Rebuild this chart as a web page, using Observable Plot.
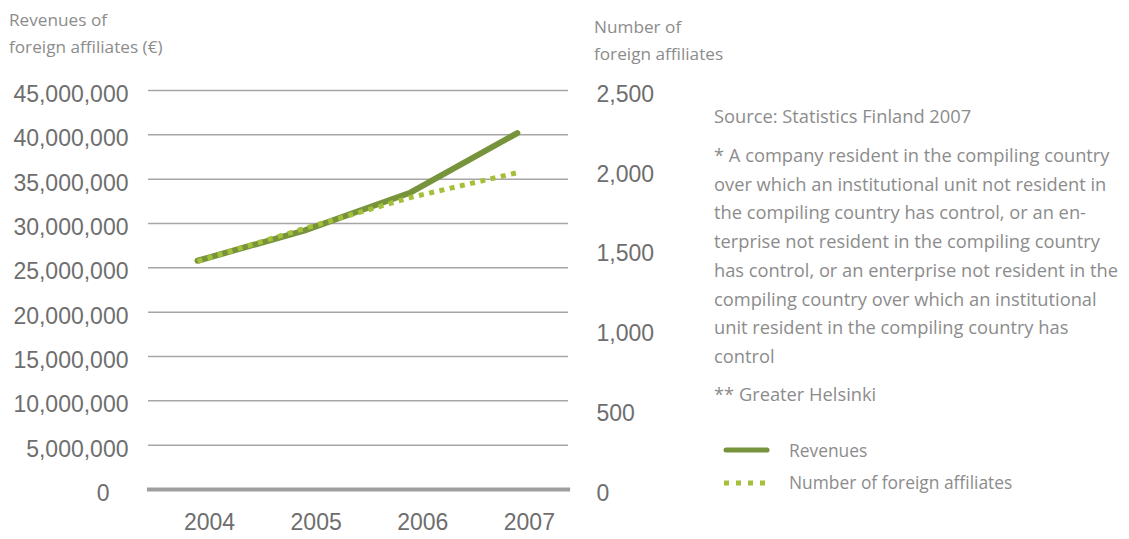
<!DOCTYPE html>
<html>
<head>
<meta charset="utf-8">
<script src="https://cdn.jsdelivr.net/npm/d3@7"></script>
<script src="https://cdn.jsdelivr.net/npm/@observablehq/plot@0.6"></script>
<style>
  html, body { margin: 0; padding: 0; background: #fff; }
  #wrap { position: relative; width: 1129px; height: 539px; overflow: hidden; }
  .t { position: absolute; font-family: "Open Sans", "Noto Sans", sans-serif; color: #8c8c8c; font-size: 17px; white-space: nowrap; }
  .title { font-size: 17.2px; line-height: 27px; }
  .notes { font-size: 18.3px; line-height: 28.7px; }
  .leg { font-size: 17.4px; line-height: 28px; }
</style>
</head>
<body>
<div id="wrap"></div>
<script>
const years = [2004, 2005, 2006, 2007];
const revenues = [25800000, 29200000, 33500000, 40200000];
const affiliates = [1430, 1635, 1830, 1985];
const leftTicks = [0, 5000000, 10000000, 15000000, 20000000, 25000000, 30000000, 35000000, 40000000, 45000000];
const rightTicks = [0, 500, 1000, 1500, 2000, 2500];
const yearLabels = ["2004", "2005", "2006", "2007"];
const seriesNames = ["Revenues", "Number of foreign affiliates"];
const leftTitle = ["Revenues of", "foreign affiliates (€)"];
const rightTitle = ["Number of", "foreign affiliates"];
const noteLines = [
  "Source: Statistics Finland 2007",
  "* A company resident in the compiling country",
  "over which an institutional unit not resident in",
  "the compiling country has control, or an en-",
  "terprise not resident in the compiling country",
  "has control, or an enterprise not resident in the",
  "compiling country over which an institutional",
  "unit resident in the compiling country has",
  "control",
  "** Greater Helsinki"
];

const ratio = 45000000 / 2500;
const data = years.map((y, i) => ({year: y, rev: revenues[i], aff: affiliates[i] * ratio}));

const revColor = "#77933c";
const affColor = "#a4bf3a";
const grid = "#a6a6a6";
const tickColor = "#6e6e6e";
const fmt = d3.format(",");

const chart = Plot.plot({
  width: 1129,
  height: 539,
  marginLeft: 148,
  marginRight: 561,
  marginTop: 90,
  marginBottom: 50,
  style: {fontFamily: "'Liberation Sans', Arial, sans-serif", fontSize: "23px", color: tickColor, background: "transparent"},
  x: {domain: [2003.54, 2007.48]},
  y: {domain: [0, 45000000]},
  marks: [
    Plot.ruleY(leftTicks.filter(d => d > 0), {stroke: grid, strokeWidth: 1.5}),
    Plot.ruleY([0], {stroke: "#9e9e9e", strokeWidth: 4, x1: 2003.53, x2: 2007.5}),
    Plot.axisY(leftTicks.filter(d => d > 0), {anchor: "left", tickSize: 0, tickPadding: 20, dy: 4, tickFormat: fmt, label: null, fill: tickColor}),
    Plot.axisY([0], {anchor: "left", tickSize: 0, tickPadding: 39, dy: 4, tickFormat: fmt, label: null, fill: tickColor}),
    Plot.axisY(rightTicks.map(d => d * ratio), {anchor: "right", tickSize: 0, tickPadding: 28, dy: 4, tickFormat: d => fmt(Math.round(d / ratio)), label: null, fill: tickColor}),
    Plot.axisX(years, {anchor: "bottom", tickSize: 0, tickPadding: 24, dx: 12, tickFormat: (d, i) => yearLabels[i], label: null, fill: tickColor}),
    Plot.line(data, {x: "year", y: "rev", stroke: revColor, strokeWidth: 6, strokeLinecap: "round", strokeLinejoin: "round"}),
    Plot.line(data, {x: "year", y: "aff", stroke: affColor, strokeWidth: 5, strokeDasharray: "5,5.5", strokeLinecap: "butt"})
  ]
});

const wrap = document.getElementById("wrap");
wrap.appendChild(chart);
chart.style.position = "absolute";
chart.style.left = "0px";
chart.style.top = "0px";

function addText(html, left, top, cls) {
  const d = document.createElement("div");
  d.className = "t " + (cls || "");
  d.style.left = left + "px";
  d.style.top = top + "px";
  d.innerHTML = html;
  wrap.appendChild(d);
  return d;
}
addText(leftTitle.join("<br>"), 9, 6, "title");
addText(rightTitle.join("<br>"), 594, 13, "title");
addText(noteLines[0], 714, 102, "notes");
addText(noteLines.slice(1, 9).join("<br>"), 714, 141, "notes");
addText(noteLines[9], 714, 380, "notes");

// legend
const legSvg = d3.create("svg").attr("width", 60).attr("height", 60)
  .style("position", "absolute").style("left", "720px").style("top", "440px");
legSvg.append("line").attr("x1", 6).attr("x2", 47).attr("y1", 10).attr("y2", 10)
  .attr("stroke", revColor).attr("stroke-width", 5).attr("stroke-linecap", "round");
legSvg.append("line").attr("x1", 4).attr("x2", 46).attr("y1", 43).attr("y2", 43)
  .attr("stroke", affColor).attr("stroke-width", 5).attr("stroke-dasharray", "5,7");
wrap.appendChild(legSvg.node());
addText(seriesNames[0], 789, 436, "leg");
addText(seriesNames[1], 789, 468, "leg");
</script>
</body>
</html>
